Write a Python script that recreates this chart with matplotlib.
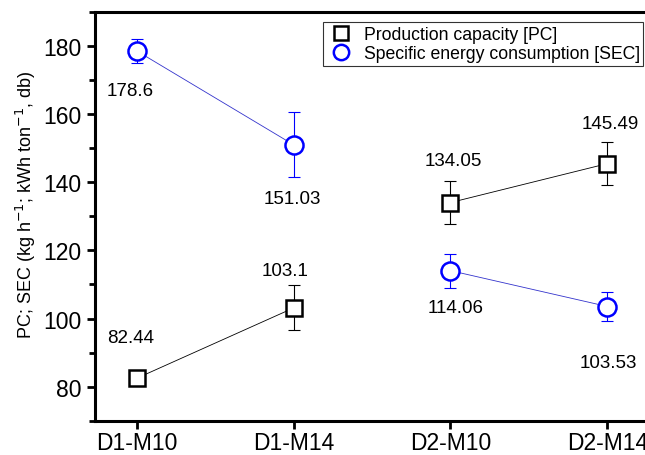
import matplotlib.pyplot as plt
from matplotlib.ticker import MultipleLocator

plt.rcParams['font.family'] = ['Liberation Sans', 'DejaVu Sans']

categories = ['D1-M10', 'D1-M14', 'D2-M10', 'D2-M14']
pc = [82.44, 103.1, 134.05, 145.49]
pc_err = [1.0, 6.6, 6.2, 6.2]
sec = [178.6, 151.03, 114.06, 103.53]
sec_err = [3.6, 9.5, 5.0, 4.2]
groups = [[0, 1], [2, 3]]

# label offsets in pixels (dx, dy)
pc_off = [(-6, 41), (-8, 37), (3, 42), (3, 40)]
sec_off = [(-6, -40), (-1, -54), (5, -37), (1, -56)]

blue = '#0000ff'
x = list(range(len(categories)))

fig = plt.figure(figsize=(6.45, 4.56), dpi=100)
ax = fig.add_axes([95 / 645, (456 - 421.7) / 456, (649 - 95) / 645, (421.7 - 13) / 456])

for g in groups:
    ax.plot([x[i] for i in g], [pc[i] for i in g], color='black', lw=0.6, zorder=1)
    ax.plot([x[i] for i in g], [sec[i] for i in g], color='#3333cc', lw=0.6, zorder=1)

ax.errorbar(x, pc, yerr=pc_err, fmt='none', ecolor='black', elinewidth=0.8,
            capsize=4, capthick=0.8, zorder=2)
ax.errorbar(x, sec, yerr=sec_err, fmt='none', ecolor=blue, elinewidth=0.8,
            capsize=4, capthick=0.8, zorder=2)
ax.plot(x, pc, ls='none', marker='s', ms=12, mfc='white', mec='black', mew=1.8,
        zorder=3, label='Production capacity [PC]')
ax.plot(x, sec, ls='none', marker='o', ms=13, mfc='white', mec=blue, mew=1.8,
        zorder=3, label='Specific energy consumption [SEC]')

for i in x:
    ax.annotate(f'{pc[i]:g}', (x[i], pc[i]), xytext=pc_off[i], textcoords='offset pixels',
                ha='center', va='center', fontsize=13.5)
    ax.annotate(f'{sec[i]:g}', (x[i], sec[i]), xytext=sec_off[i], textcoords='offset pixels',
                ha='center', va='center', fontsize=13.5)

ax.set_xlim(-0.265, 3.265)
ax.set_ylim(70, 190)
ax.set_xticks(x)
ax.set_xticklabels(categories)
ax.yaxis.set_major_locator(MultipleLocator(20))
ax.yaxis.set_minor_locator(MultipleLocator(10))
ax.set_yticks([80, 100, 120, 140, 160, 180])
ax.tick_params(axis='both', which='major', direction='out', length=6, width=2, labelsize=16.5)
ax.tick_params(axis='x', pad=1.5)
ax.tick_params(axis='y', which='minor', direction='out', length=4, width=2)
ax.tick_params(top=False, right=False)
for s in ax.spines.values():
    s.set_linewidth(2.2)

ax.set_ylabel('PC; SEC (kg h$^{-1}$; kWh ton$^{-1}$, db)', fontsize=13)
ax.yaxis.set_label_coords(-0.103, 0.53)

leg = ax.legend(loc='upper right', bbox_to_anchor=(0.9895, 0.975), fontsize=12.7, frameon=True,
                fancybox=False, edgecolor='black', handletextpad=0.5, borderpad=0.2,
                labelspacing=0.15, handlelength=1.6, borderaxespad=0, markerscale=0.85)
leg.get_frame().set_linewidth(0.8)

fig.savefig('out.png', dpi=100)
